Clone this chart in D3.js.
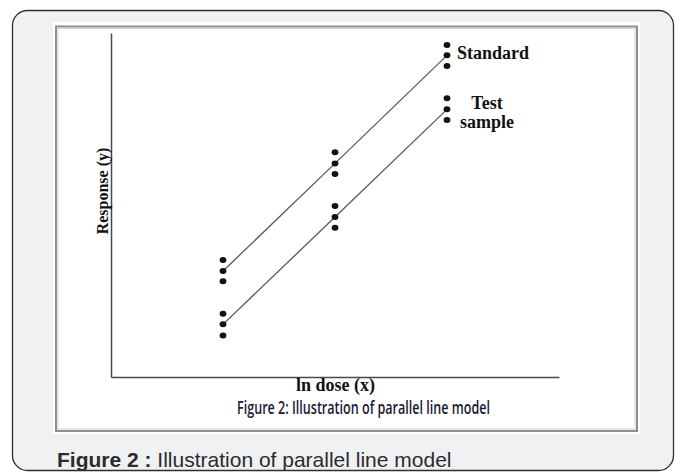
<!DOCTYPE html>
<html>
<head>
<meta charset="utf-8">
<script src="https://cdn.jsdelivr.net/npm/d3@7"></script>
<style>
  html, body { margin: 0; padding: 0; background: #ffffff; }
  svg { display: block; }
</style>
</head>
<body>
<svg id="chart" width="675" height="472"></svg>
<script>
// ---- data ----
const doses = [1, 2, 3];                 // ln dose levels (x)
const seriesNames = ["Standard", "Test sample"];
const standardValues = [                 // three replicate responses per dose
  [3.40, 3.08, 2.78],
  [6.53, 6.21, 5.90],
  [9.65, 9.35, 9.04]
];
const testValues = [
  [1.84, 1.53, 1.21],
  [4.97, 4.65, 4.34],
  [8.10, 7.78, 7.47]
];
const xDomain = [0, 4];
const yDomain = [0, 10];
const xAxisLabel = "ln dose (x)";
const yAxisLabel = "Response (y)";
const innerCaption = "Figure 2: Illustration of parallel line model";
const captionBold = "Figure 2 :";
const captionText = " Illustration of parallel line model";

// ---- drawing ----
const svg = d3.select("#chart");

// outer card
svg.append("rect")
  .attr("x", 12.5).attr("y", 10.5)
  .attr("width", 661).attr("height", 460)
  .attr("rx", 15).attr("ry", 15)
  .attr("fill", "#f0f1f3")
  .attr("stroke", "#2e2e2e").attr("stroke-width", 1.3);

// white image panel
svg.append("rect")
  .attr("x", 53).attr("y", 22)
  .attr("width", 587).attr("height", 412)
  .attr("fill", "#ffffff");

// image frame
svg.append("rect")
  .attr("x", 56).attr("y", 26.5)
  .attr("width", 581).attr("height", 404.5)
  .attr("fill", "none")
  .attr("stroke", "#8e8e8e").attr("stroke-width", 2);
svg.append("rect")
  .attr("x", 58).attr("y", 28.5)
  .attr("width", 577).attr("height", 400.5)
  .attr("fill", "none")
  .attr("stroke", "#d4d4d4").attr("stroke-width", 1);

const x = d3.scaleLinear().domain(xDomain).range([111, 559]);
const y = d3.scaleLinear().domain(yDomain).range([377, 33]);

// axes (no ticks)
const g = svg.append("g");
g.append("g")
  .attr("transform", `translate(0,${y(0)})`)
  .call(d3.axisBottom(x).tickValues([]).tickSizeOuter(0))
  .call(s => s.select(".domain").attr("stroke", "#4a4a4a").attr("stroke-width", 1.5));
g.append("g")
  .attr("transform", `translate(${x(0)},0)`)
  .call(d3.axisLeft(y).tickValues([]).tickSizeOuter(0))
  .call(s => s.select(".domain").attr("stroke", "#4a4a4a").attr("stroke-width", 1.5));

// lines and points
const allSeries = [standardValues, testValues];
const line = d3.line().x(d => x(d[0])).y(d => y(d[1]));
allSeries.forEach(vals => {
  const mids = doses.map((d, i) => [d, vals[i][1]]);
  g.append("path")
    .attr("d", line(mids))
    .attr("fill", "none")
    .attr("stroke", "#5a5a5a")
    .attr("stroke-width", 1.3);
  const pts = [];
  doses.forEach((d, i) => vals[i].forEach(v => pts.push([d, v])));
  g.selectAll(null).data(pts).enter().append("ellipse")
    .attr("cx", d => x(d[0]))
    .attr("cy", d => y(d[1]))
    .attr("rx", 3.4).attr("ry", 3)
    .attr("fill", "#111");
});

// series labels
const serif = "'Liberation Serif', 'DejaVu Serif', serif";
g.append("text")
  .attr("x", 457).attr("y", 59)
  .attr("font-family", serif).attr("font-weight", "bold").attr("font-size", 18)
  .attr("fill", "#111")
  .text(seriesNames[0]);
const [tWord, sWord] = seriesNames[1].split(" ");
g.append("text")
  .attr("x", 487).attr("y", 109).attr("text-anchor", "middle")
  .attr("font-family", serif).attr("font-weight", "bold").attr("font-size", 18)
  .attr("fill", "#111")
  .text(tWord);
g.append("text")
  .attr("x", 487).attr("y", 128).attr("text-anchor", "middle")
  .attr("font-family", serif).attr("font-weight", "bold").attr("font-size", 18)
  .attr("fill", "#111")
  .text(sWord);

// axis labels
g.append("text")
  .attr("x", 335.5).attr("y", 391)
  .attr("text-anchor", "middle")
  .attr("font-family", serif).attr("font-weight", "bold").attr("font-size", 18)
  .attr("fill", "#111")
  .text(xAxisLabel);
g.append("text")
  .attr("transform", "translate(108,191) rotate(-90)")
  .attr("text-anchor", "middle")
  .attr("font-family", serif).attr("font-weight", "bold").attr("font-size", 16)
  .attr("fill", "#111")
  .text(yAxisLabel);

// inner figure caption
g.append("text")
  .attr("x", 237).attr("y", 414)
  .attr("textLength", 253).attr("lengthAdjust", "spacingAndGlyphs")
  .attr("font-family", "'Liberation Sans Narrow', 'Open Sans', sans-serif")
  .attr("font-size", 17.5)
  .attr("font-weight", 600)
  .attr("fill", "#1a1a36")
  .text(innerCaption);

// outer caption
const cap = svg.append("text")
  .attr("x", 57).attr("y", 467)
  .attr("font-family", "'Liberation Sans', Arial, sans-serif")
  .attr("font-size", 21)
  .attr("fill", "#2b2b2b");
cap.append("tspan").attr("font-weight", "bold").text(captionBold);
cap.append("tspan").text(captionText);
</script>
</body>
</html>
